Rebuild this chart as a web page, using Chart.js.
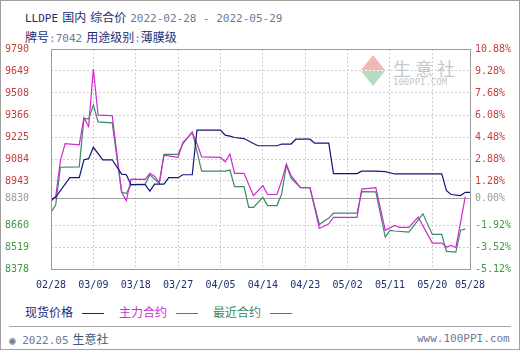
<!DOCTYPE html>
<html>
<head>
<meta charset="utf-8">
<script src="https://cdn.jsdelivr.net/npm/chart.js@4/dist/chart.umd.min.js"></script>
<style>
  html, body { margin: 0; padding: 0; background: #fff; }
  #box { position: relative; width: 518px; height: 348px; border: 1px solid #a0a0a0; overflow: hidden; }
  .cjk { font: 12px "Noto Sans CJK SC", sans-serif; }
  .mono { font: 11px "DejaVu Sans Mono", monospace; }
  .line { position: absolute; white-space: pre; line-height: 14px; }
  .navy { color: #1e2f73; }
  .grey { color: #6b7a99; }
  #chart { position: absolute; left: -1px; top: -1px; z-index: 2; }
  #mark { position: absolute; left: 360px; top: 54px; z-index: 1; }
  .tri-up { position: absolute; left: 0; top: 0; width: 0; height: 0;
    border-left: 12px solid transparent; border-right: 12px solid transparent; border-bottom: 15px solid #f3b8b4; }
  .tri-dn { position: absolute; left: 0; top: 16px; width: 0; height: 0;
    border-left: 12px solid transparent; border-right: 12px solid transparent; border-top: 15px solid #b6dcc0; }
  .leg { position: absolute; top: 302px; white-space: nowrap; line-height: 16px; }
  .legline { display: inline-block; width: 22px; height: 0; border-top: 1px solid; vertical-align: middle; margin-left: 9px; }
  #sep { position: absolute; left: 8px; right: 8px; top: 325px; border-top: 1px solid #a8a8a8; }
</style>
</head>
<body>
<div id="box">
  <div class="line" style="left:24px; top:7px;"><span class="mono navy">LLDPE</span> <span class="cjk navy">国内</span> <span class="cjk navy">综合价</span> <span class="mono grey">2022-02-28 - 2022-05-29</span></div>
  <div class="line" style="left:24px; top:27px;"><span class="cjk navy">牌号</span><span class="mono grey">:7042</span> <span class="cjk navy">用途级别</span><span class="mono grey">:</span><span class="cjk navy">薄膜级</span></div>

  <div id="mark">
    <div class="tri-up"></div><div class="tri-dn"></div>
    <div class="cjk" style="position:absolute; left:32px; top:0px; font-size:18px; letter-spacing:4px; color:#c4c8cc; white-space:pre;">生意社</div>
    <div class="mono" style="position:absolute; left:32px; top:22px; font-size:9px; color:#c4c8cc; white-space:pre;">100PPI.COM</div>
  </div>

  <canvas id="chart" width="520" height="300"></canvas>

  <div class="leg" style="left:24px;"><span class="cjk" style="color:#1f1f80;">现货价格</span><span class="legline" style="border-color:#1f1f80;"></span></div>
  <div class="leg" style="left:118px;"><span class="cjk" style="color:#cc33cc;">主力合约</span><span class="legline" style="border-color:#cc33cc;"></span></div>
  <div class="leg" style="left:212px;"><span class="cjk" style="color:#3b8a64;">最近合约</span><span class="legline" style="border-color:#3b8a64;"></span></div>
  <div id="sep"></div>
  <div class="line" style="left:8px; top:329px;"><span class="mono grey">&#9673; 2022.05</span> <span class="cjk" style="color:#3d5a7a;">生意社</span></div>
  <div class="line" style="left:416px; top:329px;"><span class="mono grey">www.100PPI.com</span></div>
</div>

<script>
// ============================================================
// Data
// ============================================================

const baseValue = 8830;
const tickDates = ['02/28', '03/09', '03/18', '03/27', '04/05', '04/14', '04/23', '05/02', '05/11', '05/20', '05/28'];
const leftTicks = [9790, 9649, 9508, 9366, 9225, 9084, 8943, 8830, 8660, 8519, 8378];
const rightTicks = ['10.88%', '9.28%', '7.68%', '6.08%', '4.48%', '2.88%', '1.28%', '0.00%', '-1.92%', '-3.52%', '-5.12%'];

// 现货价格
const spotDates = ['02/28', '03/01', '03/04', '03/06', '03/07', '03/08', '03/09', '03/11', '03/13', '03/15',
  '03/16', '03/17', '03/20', '03/21', '03/22', '03/24', '03/25', '03/27', '03/28', '03/30',
  '03/31', '04/05', '04/06', '04/07', '04/08', '04/10', '04/12', '04/13', '04/17', '04/18',
  '04/20', '04/21', '04/24', '04/25', '04/28', '04/29', '05/04', '05/05', '05/08', '05/10',
  '05/12', '05/22', '05/23', '05/24', '05/26', '05/27', '05/28'];
const spotValues = [8822, 8840, 8964, 8964, 9079, 9086, 9159, 9079, 9079, 8987,
  8983, 8919, 8919, 8878, 8923, 8923, 8964, 8964, 8983, 8983,
  9269, 9269, 9237, 9231, 9222, 9215, 9183, 9169, 9169, 9180,
  9180, 9211, 9211, 9186, 9186, 8990, 8990, 9006, 9006, 9003,
  8988, 8988, 8881, 8856, 8849, 8870, 8870];

// 主力合约
const mainDates = ['02/28', '03/01', '03/02', '03/03', '03/06', '03/07', '03/08', '03/09', '03/10', '03/13',
  '03/15', '03/16', '03/17', '03/20', '03/21', '03/22', '03/23', '03/24', '03/27', '03/28',
  '03/30', '03/31', '04/01', '04/05', '04/06', '04/07', '04/08', '04/10', '04/12', '04/14',
  '04/15', '04/17', '04/18', '04/19', '04/20', '04/22', '04/24', '04/26', '04/28', '04/29',
  '05/04', '05/05', '05/08', '05/10', '05/12', '05/13', '05/15', '05/17', '05/20', '05/22',
  '05/23', '05/24', '05/25', '05/27'];
const mainValues = [8810, 8843, 9073, 9183, 9175, 9348, 9293, 9661, 9365, 9362,
  8870, 8817, 8955, 8953, 8992, 8974, 8932, 9109, 9094, 9190,
  9252, 9183, 9098, 9094, 9066, 9116, 8992, 8992, 8849, 8913,
  8856, 8856, 8945, 9052, 8977, 8900, 8900, 8638, 8668, 8709,
  8709, 8891, 8900, 8626, 8657, 8645, 8645, 8711, 8544, 8544,
  8519, 8530, 8515, 8843];

// 最近合约
const nearDates = ['02/28', '03/01', '03/02', '03/06', '03/07', '03/08', '03/09', '03/10', '03/13', '03/15',
  '03/16', '03/17', '03/20', '03/21', '03/23', '03/24', '03/27', '03/28', '03/30', '04/01',
  '04/06', '04/07', '04/08', '04/10', '04/11', '04/12', '04/14', '04/15', '04/17', '04/18',
  '04/19', '04/20', '04/22', '04/24', '04/26', '04/28', '04/29', '05/04', '05/05', '05/08',
  '05/10', '05/11', '05/12', '05/15', '05/18', '05/20', '05/22', '05/23', '05/25', '05/26',
  '05/27'];
const nearValues = [8741, 8790, 9031, 9034, 9344, 9341, 9431, 9322, 9316, 8872,
  8862, 8919, 8923, 8983, 8926, 9114, 9114, 9181, 9259, 9006,
  9006, 9013, 8907, 8907, 8774, 8774, 8838, 8785, 8785, 8860,
  9044, 8961, 8900, 8900, 8664, 8705, 8736, 8736, 8875, 8873,
  8583, 8626, 8622, 8615, 8732, 8600, 8600, 8491, 8487, 8627,
  8634];

// ============================================================
// Utilities
// ============================================================

// days since 02/28 (2022)
function dayOf(md) {
  const [m, d] = md.split('/').map(Number);
  return (Date.UTC(2022, m - 1, d) - Date.UTC(2022, 1, 28)) / 86400000;
}

function toPoints(dates, values) {
  return dates.map((d, i) => ({ x: dayOf(d), y: values[i] }));
}

function tickColor(v) {
  if (v > baseValue) return '#c4403c';
  if (v < baseValue) return '#3f9a45';
  return '#9a9a9a';
}

const tickFont = { family: '"DejaVu Sans Mono", monospace', size: 10 };

// plot frame
const framePlugin = {
  id: 'frame',
  afterDraw(chart) {
    const a = chart.chartArea;
    const c = chart.ctx;
    c.save();
    c.strokeStyle = '#9a9a9a';
    c.lineWidth = 1;
    c.strokeRect(Math.round(a.left) + 0.5, Math.round(a.top) + 0.5,
      Math.round(a.right - a.left), Math.round(a.bottom - a.top));
    c.restore();
  }
};

// ============================================================
// Chart
// ============================================================

function init() {
  const ctx = document.getElementById('chart').getContext('2d');
  const line = (data, color) => ({
    data: data,
    borderColor: color,
    borderWidth: 1.2,
    pointRadius: 0,
    tension: 0,
    fill: false
  });

  new Chart(ctx, {
    type: 'line',
    data: {
      datasets: [
        line(toPoints(spotDates, spotValues), '#14147a'),
        line(toPoints(mainDates, mainValues), '#d02ad0'),
        line(toPoints(nearDates, nearValues), '#3b8a64')
      ]
    },
    options: {
      responsive: false,
      animation: false,
      layout: { padding: { top: 49, left: 0, right: 0, bottom: 0 } },
      plugins: { legend: { display: false }, tooltip: { enabled: false } },
      scales: {
        x: {
          type: 'linear',
          min: 0,
          max: dayOf('05/28'),
          afterBuildTicks: s => { s.ticks = tickDates.map(d => ({ value: dayOf(d) })); },
          afterFit: s => { s.height = 31; },
          ticks: {
            autoSkip: false,
            maxRotation: 0,
            padding: 10,
            color: '#1e2f73',
            font: tickFont,
            callback: (v, i) => tickDates[i]
          },
          grid: { color: '#cfcfcf', drawTicks: false },
          border: { display: false, dash: [2, 2] }
        },
        y: {
          min: 8378,
          max: 9790,
          afterBuildTicks: s => { s.ticks = leftTicks.map(v => ({ value: v })); },
          afterFit: s => { s.width = 51; },
          ticks: {
            padding: 22,
            font: tickFont,
            color: c => tickColor(c.tick.value),
            callback: v => String(v)
          },
          grid: {
            drawTicks: false,
            color: c => (c.tick && c.tick.value === baseValue) ? '#a0a0a0' : '#cfcfcf'
          },
          border: {
            display: false,
            dash: c => (c.tick && c.tick.value === baseValue) ? [] : [2, 2]
          }
        },
        y1: {
          position: 'right',
          min: 8378,
          max: 9790,
          afterBuildTicks: s => { s.ticks = leftTicks.map(v => ({ value: v })); },
          afterFit: s => { s.width = 50; },
          ticks: {
            padding: 5,
            font: tickFont,
            color: c => tickColor(c.tick.value),
            callback: (v, i) => rightTicks[i]
          },
          grid: { display: false, drawTicks: false },
          border: { display: false }
        }
      }
    },
    plugins: [framePlugin]
  });
}

document.addEventListener('DOMContentLoaded', init);
</script>
</body>
</html>
